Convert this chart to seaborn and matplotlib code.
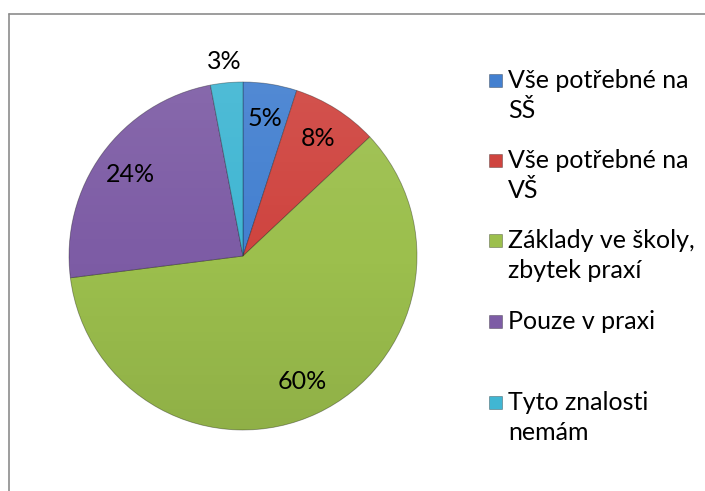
import numpy as np
import matplotlib
matplotlib.use("Agg")
import matplotlib.pyplot as plt
import seaborn as sns
from matplotlib.patches import Circle, Rectangle
from matplotlib.lines import Line2D

# data
categories = ["Vše potřebné na\nSŠ", "Vše potřebné na\nVŠ", "Základy ve školy,\nzbytek praxí",
              "Pouze v praxi", "Tyto znalosti\nnemám"]
shares = [5, 8, 60, 24, 3]
colors = ["#4380D0", "#CF443F", "#9CBF4D", "#7D5CA5", "#40B6D3"]

sns.set_theme(style="white")
plt.rcParams["font.family"] = ["Lato", "DejaVu Sans"]

W, H = 705, 491
fig = plt.figure(figsize=(W / 100, H / 100), dpi=100)
fig.patch.set_facecolor("white")

# pie axes, centre and radius in pixels
cx, cy, r = 243, 256, 174
ax = fig.add_axes([(cx - r) / W, (H - cy - r) / H, 2 * r / W, 2 * r / H])

wedges, texts, autotexts = ax.pie(
    shares, colors=colors, startangle=90, counterclock=False,
    autopct=lambda p: f"{p:.0f}%", pctdistance=0.8,
    wedgeprops=dict(edgecolor=(0, 0, 0, 0.35), linewidth=0.6),
    textprops=dict(fontsize=18, color="black"))

# the small slice gets its label outside
ang = np.deg2rad(90 - (sum(shares[:-1]) + shares[-1] / 2) / sum(shares) * 360)
autotexts[-1].set_position((1.12 * np.cos(ang), 1.12 * np.sin(ang)))

# light/shade overlay to mimic the office look
grad = np.zeros((256, 1, 4))
t = np.linspace(0, 1, 256)
grad[:, 0, :3] = np.where(t[:, None] < 0.5, 1.0, 0.0)
grad[:, 0, 3] = np.abs(t - 0.5) * 0.16
im = ax.imshow(grad, extent=(-1, 1, -1, 1), aspect="auto", zorder=1.5)
im.set_clip_path(Circle((0, 0), 1, transform=ax.transData))
ax.set_xlim(-1, 1)
ax.set_ylim(-1, 1)
ax.axis("off")

# legend drawn by hand (Excel style: marker next to first line)
fs = 18
for i, (lab, col) in enumerate(zip(categories, colors)):
    y0 = 80 + 80.5 * i
    fig.add_artist(Rectangle((489 / W, 1 - (y0 + 6.5) / H), 13 / W, 13 / H,
                             facecolor=col, edgecolor=(0, 0, 0, 0.4), linewidth=0.5,
                             transform=fig.transFigure))
    for j, line in enumerate(lab.split("\n")):
        fig.text(508 / W, 1 - (y0 + 30 * j) / H, line, fontsize=fs,
                 va="center", ha="left", color="black")

# chart border (top and left visible)
bc = "#8c8c8c"
fig.add_artist(Line2D([9 / W, 9 / W], [0, 1 - 14 / H], color=bc, lw=1.2, transform=fig.transFigure))
fig.add_artist(Line2D([9 / W, 1], [1 - 14 / H, 1 - 14 / H], color=bc, lw=1.2, transform=fig.transFigure))

fig.savefig("out.png", dpi=100)
